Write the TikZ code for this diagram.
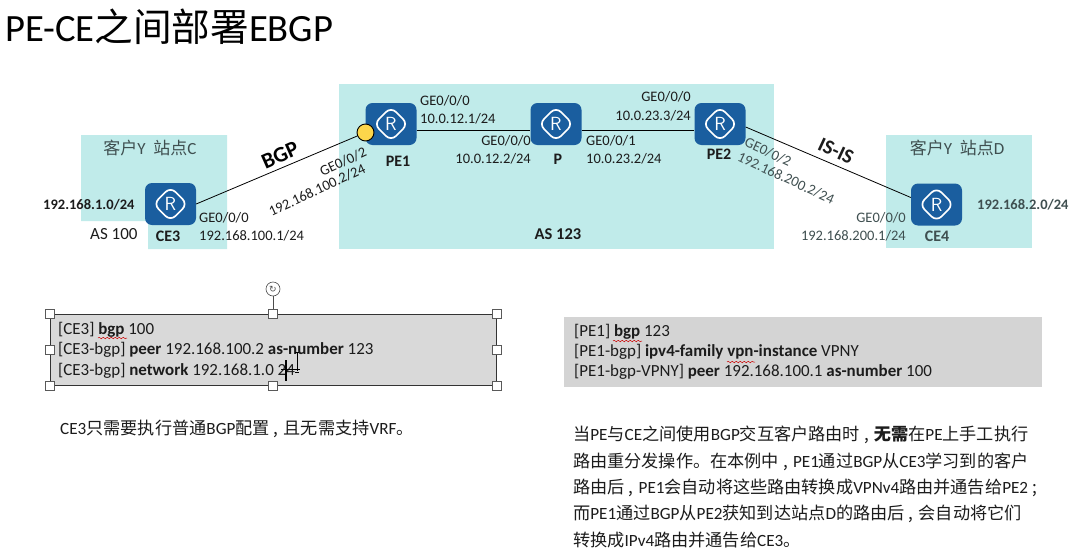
\documentclass[tikz,border=0pt]{standalone}
\usepackage{fontspec}
\setmainfont{Carlito}
\newfontfamily\cjk{Noto Sans CJK SC}
\newfontfamily\symf{DejaVu Sans}
\newcommand\zh[1]{{\cjk #1}}
\newcommand\cjkp[1]{{\cjk\hskip.24em #1\hskip.3em}}
\usetikzlibrary{decorations.pathmorphing}
\definecolor{teal1}{HTML}{C0EBEA}
\definecolor{rblue}{HTML}{1A5E9F}
\definecolor{ink}{HTML}{1C1C1C}
\definecolor{gtxt}{HTML}{3F4F50}
\tikzset{
  x=1pt,y=-1pt,
  sz/.style={font=\fontsize{#1}{#1}\selectfont},
  lbl/.style={inner sep=0pt,text=ink,sz=14.5},
  blbl/.style={inner sep=0pt,text=ink,font=\fontsize{14.5}{14.5}\selectfont\bfseries},
  nlbl/.style={inner sep=0pt,text=ink,font=\fontsize{16}{16}\selectfont\bfseries},
  site/.style={inner sep=0pt,text=gtxt,sz=17},
  cfg/.style={inner sep=0pt,anchor=west,text=ink,sz=16.95},
  para/.style={inner sep=0pt,anchor=west,text=ink,sz=17.15},
  zone/.style={fill=teal1,draw=none},
  link/.style={draw=black,line width=.8pt},
  router/.style={draw=none,fill=rblue,rounded corners=7pt,minimum width=51pt,minimum height=42pt,inner sep=0pt,
    text=white,font=\fontsize{19}{19}\selectfont\sffamily,
    path picture={\draw[white,line width=1.7pt] (path picture bounding box.center) ++(-17,0) -- ++(17,-17) -- ++(17,17) -- ++(-17,17) -- cycle;}},
  handle/.style={draw=gray!70!black,fill=white,line width=.6pt,minimum size=9pt,inner sep=0pt},
  squig/.style={draw=red!80!black,line width=.5pt,decorate,decoration={snake,amplitude=.7pt,segment length=4pt}},
}
\begin{document}
\begin{tikzpicture}
\useasboundingbox (0,0) rectangle (1092,557);
\fill[white] (0,0) rectangle (1092,557);
% zones
\fill[zone] (81,135) -- (227,135) -- (227,249) -- (148,249) -- (148,221) -- (81,221) -- cycle;
\fill[zone] (339,84) rectangle (774,249);
\fill[zone] (886,135) rectangle (1032,248);
% title
\node[inner sep=0pt,anchor=west,text=black,sz=38.6] (title) at (5,27) {PE-CE\zh{之间部署}EBGP};
% routers
\node[router] (CE3) at (170.5,204) {R};
\node[router] (PE1) at (391,124) {R};
\node[router] (P) at (556,124) {R};
\node[router] (PE2) at (720,124) {R};
\node[router] (CE4) at (936.5,204.5) {R};
\node[circle,draw=black,fill=yellow!60!orange!70,line width=.9pt,minimum size=17pt,inner sep=0pt] (dot) at (365.5,132.5) {};
% links
\draw[link] (CE3.east) -- (dot);
\draw[link] ([yshift=-6pt]PE1.east) -- ([yshift=-6pt]P.west);
\draw[link] ([yshift=-6pt]P.east) -- ([yshift=-6pt]PE2.west);
\draw[link] ([yshift=-3pt]PE2.east) -- ([yshift=7pt]CE4.west);
% left site
\node[site] (sc) at (150,148) {\zh{客户}Y\ \ \zh{站点}C};
\node[blbl,anchor=west] (net1) at (43,205) {192.168.1.0/24};
\node[lbl,sz=17,anchor=west] (as100) at (90,234) {AS 100};
\node[nlbl] (ce3n) at (168,236) {CE3};
\node[lbl,anchor=west] (c1) at (199,218) {GE0/0/0};
\node[lbl,anchor=west] (c2) at (199,236) {192.168.100.1/24};
% BGP
\node[inner sep=0pt,rotate=24,text=black,font=\fontsize{22}{22}\selectfont\bfseries] (bgp) at (280,155) {BGP};
\node[lbl,rotate=25] (p1) at (343,162) {GE0/0/2};
\node[lbl,rotate=25] (p2) at (317,190) {192.168.100.2/24};
% AS 123
\node[lbl,anchor=west] (a1) at (420,101) {GE0/0/0};
\node[lbl,anchor=west] (a2) at (420,119) {10.0.12.1/24};
\node[nlbl] (pe1n) at (398,161) {PE1};
\node[lbl,anchor=east] (a3) at (531,141) {GE0/0/0};
\node[lbl,anchor=east] (a4) at (531,159) {10.0.12.2/24};
\node[nlbl] (pn) at (558,159) {P};
\node[lbl,anchor=west] (a5) at (586,141) {GE0/0/1};
\node[lbl,anchor=west] (a6) at (586,159) {10.0.23.2/24};
\node[lbl,anchor=east] (a7) at (691,97) {GE0/0/0};
\node[lbl,anchor=east] (a8) at (691,116) {10.0.23.3/24};
\node[nlbl] (pe2n) at (719,154) {PE2};
\node[inner sep=0pt,text=ink,font=\fontsize{16.5}{16.5}\selectfont\bfseries] (as123) at (558,234) {AS 123};
% right
\node[lbl,rotate=-25,text=gtxt] (r1) at (768,152) {GE0/0/2};
\node[lbl,rotate=-25,text=gtxt] (r2) at (786,178) {192.168.200.2/24};
\node[inner sep=0pt,rotate=-25,text=ink,font=\fontsize{20.5}{20.5}\selectfont\bfseries] (isis) at (836,151) {IS-IS};
\node[site] (sd) at (957,148) {\zh{客户}Y\ \ \zh{站点}D};
\node[lbl,anchor=east,text=gtxt] (d1) at (906,218) {GE0/0/0};
\node[lbl,anchor=east,text=gtxt] (d2) at (906,236) {192.168.200.1/24};
\node[nlbl,text=gtxt] (ce4n) at (937,236) {CE4};
\node[blbl,text=gtxt,anchor=west] (net2) at (977,205) {192.168.2.0/24};
% config box 1
\node[draw=black!80,fill=black!15,line width=.8pt,minimum width=446pt,minimum height=71pt,inner sep=0pt] (box1) at (273,350) {};
\node[cfg] (b1l1) at (58,330) {[CE3] \textbf{bgp} 100};
\node[cfg] (b1l2) at (58,350) {[CE3-bgp] \textbf{peer} 192.168.100.2 \textbf{as-number} 123};
\node[cfg] (b1l3) at (58,371) {[CE3-bgp] \textbf{network} 192.168.1.0 24};
\draw[squig] (98,338) -- (127,338);
\foreach \a in {north west,north,north east,west,east,south west,south,south east}
  \node[handle] (h-\a) at (box1.\a) {};
\node[circle,draw=black!70,fill=white,line width=.6pt,minimum size=14pt,inner sep=0pt,text=black!70,font=\fontsize{9}{9}\selectfont\symf] (rot) at (273,289) {↻};
\draw[black!70,line width=.7pt] (rot) -- (h-north);
% cursor
\draw[black,line width=1.5pt] (286,360) -- (286,381);
\draw[black,line width=.5pt] (281,369) -- (300,369);
\draw[black,line width=.6pt] (297,353) -- (297,371) (295,352) -- (299,352) (295,372) -- (299,372);
\node[para] (note1) at (60,429) {CE3\zh{只需要执行普通}BGP\zh{配置}\cjkp{,}\zh{且无需支持}VRF\zh{。}};
% config box 2
\node[fill=black!17,minimum width=478pt,minimum height=70pt,inner sep=0pt] (box2) at (803,352) {};
\node[cfg] (b2l1) at (574,332) {[PE1] \textbf{bgp} 123};
\node[cfg] (b2l2) at (574,352) {[PE1-bgp] \textbf{ipv4-family vpn-instance} VPNY};
\node[cfg] (b2l3) at (574,372) {[PE1-bgp-VPNY] \textbf{peer} 192.168.100.1 \textbf{as-number} 100};
\draw[squig] (613,341) -- (642,341);
\draw[squig] (727,362) -- (755,362);
% paragraph
\node[para] (t1) at (573,435) {\zh{当}PE\zh{与}CE\zh{之间使用}BGP\zh{交互客户路由时}\cjkp{,}\zh{\textbf{无需}在}PE\zh{上手工执行}};
\node[para] (t2) at (573,462) {\zh{路由重分发操作。在本例中}\cjkp{,}PE1\zh{通过}BGP\zh{从}CE3\zh{学习到的客户}};
\node[para] (t3) at (573,488) {\zh{路由后}\cjkp{,}PE1\zh{会自动将这些路由转换成}VPNv4\zh{路由并通告给}PE2\cjkp{;}};
\node[para] (t4) at (573,514) {\zh{而}PE1\zh{通过}BGP\zh{从}PE2\zh{获知到达站点}D\zh{的路由后}\cjkp{,}\zh{会自动将它们}};
\node[para] (t5) at (573,540) {\zh{转换成}IPv4\zh{路由并通告给}CE3\zh{。}};
\end{tikzpicture}
\end{document}
